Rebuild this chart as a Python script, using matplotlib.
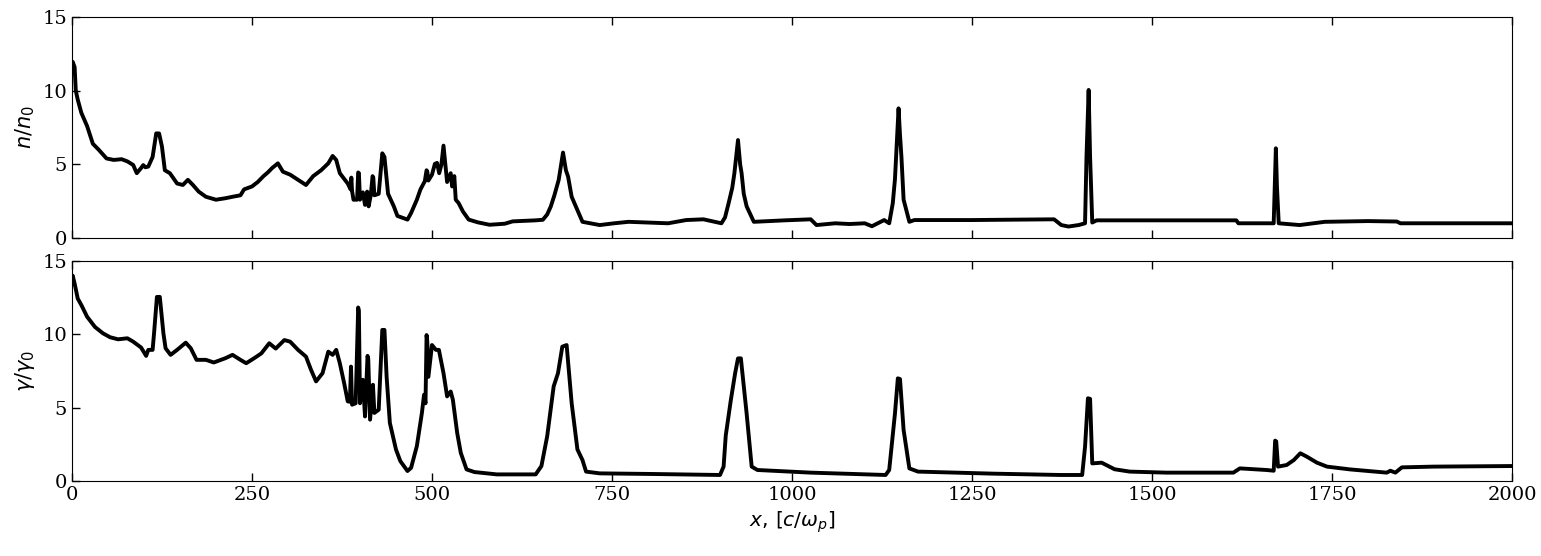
import numpy as np
import matplotlib.pyplot as plt

# density profile n/n0
x_n = [0, 1, 3.7, 5.3, 8, 13, 21, 29, 37, 48, 58, 69, 77, 85, 90, 96, 99, 102, 106,
       112, 117, 121, 125, 129, 136, 146, 154, 161, 168, 176, 186, 200, 213, 223, 234,
       239, 250, 258, 266, 272, 278, 286, 293, 303, 314, 325, 335, 346, 356, 362, 367,
       372, 383, 387, 388, 389, 391, 396, 397.5, 398.5, 400, 404, 407, 410, 412, 415,
       417.5, 418.5, 420, 426, 431, 434, 439, 447, 452, 466, 471, 479, 484, 490, 492.5,
       493.5, 495, 500, 504, 507, 510, 513, 516, 518.5, 521, 526, 528, 531, 533, 537,
       543, 551, 564, 580, 601, 612, 644, 654, 660, 665, 670, 676, 682, 686, 689, 694,
       702, 709, 733, 753, 773, 800, 828, 853, 877, 902, 907, 912, 917, 920, 925, 928,
       930, 933, 937, 947, 990, 1026, 1034, 1060, 1080, 1101, 1111, 1128, 1135, 1140,
       1143, 1145, 1148, 1150, 1152, 1155, 1163, 1170, 1250, 1364, 1374, 1384, 1398,
       1407, 1409, 1412, 1414, 1417, 1423, 1478, 1550, 1617, 1620, 1669, 1670.5, 1672,
       1673.5, 1676, 1705, 1740, 1800, 1840, 1845, 2000]
n_vals = [11.5, 11.96, 11.6, 10.0, 9.4, 8.5, 7.6, 6.4, 6.0, 5.4, 5.3, 5.35, 5.2, 4.96,
          4.4, 4.75, 4.95, 4.8, 4.85, 5.5, 7.1, 7.1, 6.2, 4.6, 4.4, 3.7, 3.6, 3.95, 3.6,
          3.15, 2.8, 2.6, 2.7, 2.8, 2.9, 3.3, 3.5, 3.8, 4.2, 4.45, 4.75, 5.07, 4.5, 4.3,
          3.95, 3.6, 4.2, 4.6, 5.07, 5.57, 5.3, 4.4, 3.7, 3.3, 4.1, 3.2, 2.6, 2.6, 4.45,
          4.4, 2.6, 3.1, 2.25, 3.15, 2.15, 2.9, 4.2, 4.1, 2.9, 3.0, 5.75, 5.5, 3.0, 2.15,
          1.5, 1.25, 1.7, 2.6, 3.3, 3.85, 4.6, 4.5, 3.9, 4.3, 5.03, 5.1, 4.4, 4.96, 6.27,
          5.0, 3.8, 4.4, 3.5, 4.2, 2.6, 2.37, 1.8, 1.25, 1.06, 0.9, 0.97, 1.13, 1.2, 1.24,
          1.6, 2.14, 2.9, 3.95, 5.8, 4.6, 4.17, 2.8, 1.9, 1.1, 0.88, 1.0, 1.1, 1.05, 1.0,
          1.22, 1.27, 1.0, 1.4, 2.37, 3.4, 4.4, 6.65, 5.0, 4.4, 3.0, 2.15, 1.1, 1.2, 1.27,
          0.88, 1.0, 0.95, 1.0, 0.8, 1.22, 1.0, 2.37, 4.0, 5.97, 8.8, 7.0, 5.5, 2.6, 1.1,
          1.22, 1.22, 1.27, 0.88, 0.78, 0.88, 1.0, 5.5, 10.05, 5.5, 1.05, 1.2, 1.2, 1.2,
          1.2, 1.0, 1.0, 3.5, 6.09, 3.5, 1.0, 0.88, 1.1, 1.15, 1.12, 1.0, 1.0]

# Lorentz factor gamma/gamma0
x_g = [0, 1, 3.7, 8, 13, 21, 32, 43, 53, 64, 77, 85, 96, 103, 106, 112, 114, 118, 122,
       127, 130, 137, 146, 158, 165, 173, 186, 197, 213, 223, 234, 242, 253, 263, 274,
       283, 295, 303, 314, 325, 332, 339, 348, 356, 362, 367, 372, 378, 383, 386, 387.5,
       389, 394, 397.5, 398.5, 400, 404, 407, 410.5, 411.5, 414, 418, 420, 426, 431, 434,
       437, 441.5, 450, 456, 466, 471, 479, 486, 489, 491, 492.5, 493.5, 495, 500,
       505.5, 509.6, 516, 521, 526, 529, 535, 540, 548, 559, 590, 644, 652, 660, 669,
       675, 681, 687, 694, 702, 709, 714, 733, 803, 900, 905, 908, 915, 921, 925, 929,
       937, 944, 952, 1026, 1130, 1135, 1143, 1147, 1150, 1155, 1163, 1175, 1280, 1373,
       1403, 1407, 1411, 1414, 1417, 1430, 1448, 1469, 1520, 1613, 1622, 1659, 1669,
       1671, 1672.5, 1675, 1687, 1697, 1706, 1715, 1729, 1743, 1775, 1826, 1831, 1838,
       1847, 1891, 2000]
g_vals = [13.5, 14.0, 13.46, 12.44, 12.0, 11.2, 10.5, 10.07, 9.8, 9.66, 9.73, 9.5, 9.1,
          8.53, 8.94, 8.94, 10.07, 12.55, 12.55, 10.07, 9.05, 8.6, 8.94, 9.43, 9.05, 8.26,
          8.26, 8.08, 8.37, 8.6, 8.26, 8.03, 8.37, 8.7, 9.39, 9.03, 9.61, 9.5, 8.94, 8.48,
          7.58, 6.79, 7.35, 8.82, 8.6, 8.94, 8.03, 6.67, 5.43, 5.4, 7.8, 5.2, 5.3, 11.83,
          11.6, 5.3, 6.9, 4.4, 8.53, 8.3, 4.18, 6.56, 4.64, 4.86, 10.3, 10.3, 7.1, 3.96,
          2.15, 1.36, 0.68, 0.9, 2.38, 4.64, 5.88, 5.3, 9.95, 9.5, 7.1, 9.27, 8.94, 8.94,
          7.35, 5.77, 6.1, 5.54, 3.28, 1.92, 0.79, 0.61, 0.45, 0.45, 1.02, 3.05, 6.45,
          7.35, 9.16, 9.27, 5.3, 2.15, 1.43, 0.64, 0.52, 0.48, 0.41, 0.98, 3.1, 5.5, 7.34,
          8.36, 8.36, 4.6, 0.98, 0.75, 0.57, 0.41, 0.75, 4.6, 7.0, 6.95, 3.48, 0.86, 0.64,
          0.5, 0.41, 0.41, 2.34, 5.64, 5.6, 1.2, 1.25, 0.8, 0.64, 0.57, 0.57, 0.86, 0.75,
          0.7, 2.75, 2.7, 0.98, 1.09, 1.43, 1.89, 1.66, 1.25, 0.98, 0.79, 0.57, 0.7, 0.57,
          0.93, 0.98, 1.02]

plt.rcParams['font.family'] = 'DejaVu Serif'
plt.rcParams['mathtext.fontset'] = 'dejavusans'

fig = plt.figure(figsize=(15.41, 5.56), dpi=100)
ax1 = fig.add_axes([0.0467, 0.5719, 0.9345, 0.3975])
ax2 = fig.add_axes([0.0467, 0.1349, 0.9345, 0.3957])

ax1.plot(x_n, n_vals, color='black', lw=2.8)
ax2.plot(x_g, g_vals, color='black', lw=2.8)

for ax in (ax1, ax2):
    ax.set_xlim(0, 2000)
    ax.set_ylim(0, 15)
    ax.set_xticks(np.arange(0, 2001, 250))
    ax.set_yticks([0, 5, 10, 15])
    ax.tick_params(direction='in', top=True, right=False, length=6, width=1, labelsize=14)

ax1.tick_params(labelbottom=False)
ax1.set_ylabel(r'$n/n_0$', fontsize=15)
ax2.set_ylabel(r'$\gamma/\gamma_0$', fontsize=15)
ax2.set_xlabel(r'$x,\,[c/\omega_p]$', fontsize=14.5)

fig.savefig('out.png', dpi=100)
